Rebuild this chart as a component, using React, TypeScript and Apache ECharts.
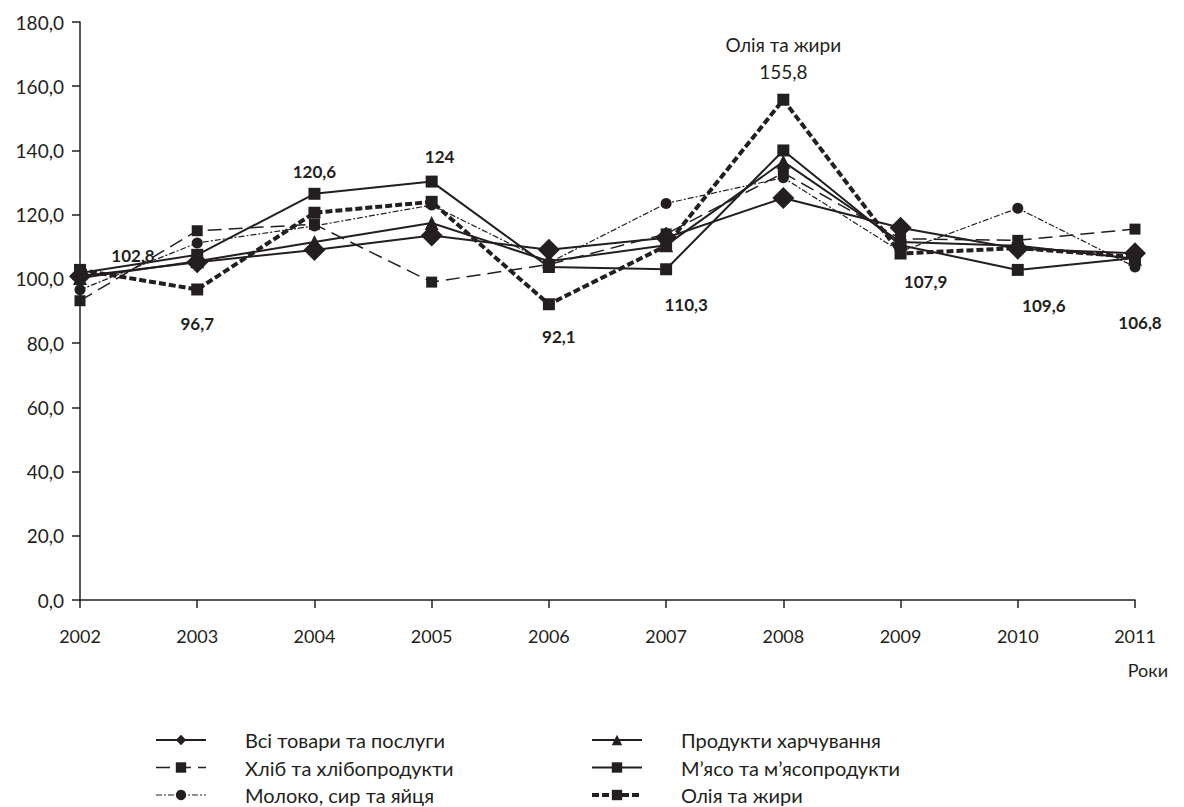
import React, { useEffect, useRef } from "react";
import * as echarts from "echarts";

const years = ["2002", "2003", "2004", "2005", "2006", "2007", "2008", "2009", "2010", "2011"];
const allGoods = [100.8, 105.2, 109.0, 113.5, 109.1, 112.8, 125.2, 115.9, 109.4, 108.0];
const food = [100.3, 105.5, 111.5, 117.4, 105.5, 110.5, 136.5, 111.5, 110.3, 106.3];
const bread = [93.2, 115.0, 117.0, 99.0, 104.5, 114.0, 133.0, 112.5, 112.0, 115.5];
const milk = [96.6, 111.2, 116.5, 123.0, 105.0, 123.5, 131.5, 108.5, 122.0, 103.7];
const meat = [101.8, 107.5, 126.5, 130.3, 103.7, 103.0, 140.0, 110.5, 102.8, 106.5];
const oil = [102.8, 96.7, 120.6, 124, 92.1, 110.3, 155.8, 107.9, 109.6, 106.8];
const oilLabels = ["102,8", "96,7", "120,6", "124", "92,1", "110,3", "Олія та жири\n155,8", "107,9", "109,6", "106,8"];
const yTicks = [0, 20, 40, 60, 80, 100, 120, 140, 160, 180];
const legendLeft = ["Всі товари та послуги", "Хліб та хлібопродукти", "Молоко, сир та яйця"];
const legendRight = ["Продукти харчування", "М’ясо та м’ясопродукти", "Олія та жири"];

const labelOffsets: number[][] = [
  [53, -14], [0, 34], [0, -41], [8, -45], [10, 32], [20, 59], [0, -42], [25, 28], [26, 57], [5, 65],
];

const INK = "#231f20";
const FONT = "Lato";

const styles: Record<string, { symbol: string; size: number; line: any }> = {
  "Всі товари та послуги": { symbol: "diamond", size: 22, line: { width: 2, type: "solid" } },
  "Хліб та хлібопродукти": { symbol: "rect", size: 11, line: { width: 1.5, type: [14, 7] } },
  "Молоко, сир та яйця": { symbol: "circle", size: 11, line: { width: 1.2, type: [6, 2, 2, 2] } },
  "Продукти харчування": { symbol: "triangle", size: 14, line: { width: 2, type: "solid" } },
  "М’ясо та м’ясопродукти": { symbol: "rect", size: 12, line: { width: 2, type: "solid" } },
  "Олія та жири": { symbol: "rect", size: 12, line: { width: 4, type: [7, 3] } },
};

export default function App() {
  const ref = useRef<HTMLDivElement>(null);
  useEffect(() => {
    if (!ref.current) return;
    const chart = echarts.init(ref.current, undefined, { renderer: "svg" });
    const oilData = oil.map((v, i) => ({
      value: v,
      label: {
        show: true,
        position: "inside",
        offset: labelOffsets[i],
        formatter: oilLabels[i],
        align: "center",
        verticalAlign: "middle",
        color: INK,
        fontFamily: FONT,
        fontSize: i === 6 ? 19 : 17,
        fontWeight: i === 6 ? "normal" : "bold",
        lineHeight: 27,
      },
    }));
    const base = (name: string, data: any[]) => ({
      name,
      type: "line",
      data,
      symbol: styles[name].symbol,
      symbolSize: styles[name].size,
      showAllSymbol: true,
      itemStyle: { color: INK },
      lineStyle: { color: INK, ...styles[name].line },
      z: name === "Олія та жири" ? 3 : 2,
    });
    const legendItems = (names: string[]) =>
      names.map((n) => ({
        name: n,
        lineStyle: { color: INK, ...styles[n].line },
      }));
    const legendCommon = {
      orient: "vertical",
      top: 729,
      padding: 0,
      itemWidth: 50,
      itemHeight: 13,
      itemGap: 5.5,
      textStyle: { fontFamily: FONT, fontSize: 20, lineHeight: 22, color: INK, padding: [0, 0, 0, 34] },
    };
    chart.setOption({
      animation: false,
      backgroundColor: "#ffffff",
      textStyle: { fontFamily: FONT, color: INK },
      grid: { left: 80, right: 49, top: 22, bottom: 207, containLabel: false },
      legend: [
        { ...legendCommon, left: 155, data: legendItems(legendLeft) },
        { ...legendCommon, left: 590, data: legendItems(legendRight) },
      ],
      xAxis: {
        type: "category",
        data: years,
        boundaryGap: false,
        axisLine: { lineStyle: { color: INK, width: 1.5 } },
        axisTick: { show: true, length: 8, lineStyle: { color: INK, width: 1.5 }, alignWithLabel: true },
        axisLabel: { color: INK, fontFamily: FONT, fontSize: 18, margin: 27 },
        splitLine: { show: false },
      },
      yAxis: {
        type: "value",
        min: 0,
        max: 180,
        interval: 20,
        axisLine: { show: true, lineStyle: { color: INK, width: 1.5 } },
        axisTick: { show: true, length: 8, lineStyle: { color: INK, width: 1.5 } },
        axisLabel: {
          color: INK,
          fontFamily: FONT,
          fontSize: 19,
          margin: 16,
          formatter: (v: number) => (yTicks.includes(v) ? v.toFixed(1).replace(".", ",") : ""),
        },
        splitLine: { show: false },
      },
      graphic: [
        {
          type: "text",
          right: 16,
          top: 661,
          style: { text: "Роки", fontFamily: FONT, fontSize: 18, fill: INK },
        },
      ],
      series: [
        base("Всі товари та послуги", allGoods),
        base("Хліб та хлібопродукти", bread),
        base("Молоко, сир та яйця", milk),
        base("Продукти харчування", food),
        base("М’ясо та м’ясопродукти", meat),
        base("Олія та жири", oilData),
      ],
    });
    return () => chart.dispose();
  }, []);
  return (
    <div
      ref={ref}
      style={{ position: "fixed", left: 0, top: 0, width: 1184, height: 807, background: "#fff" }}
    />
  );
}
